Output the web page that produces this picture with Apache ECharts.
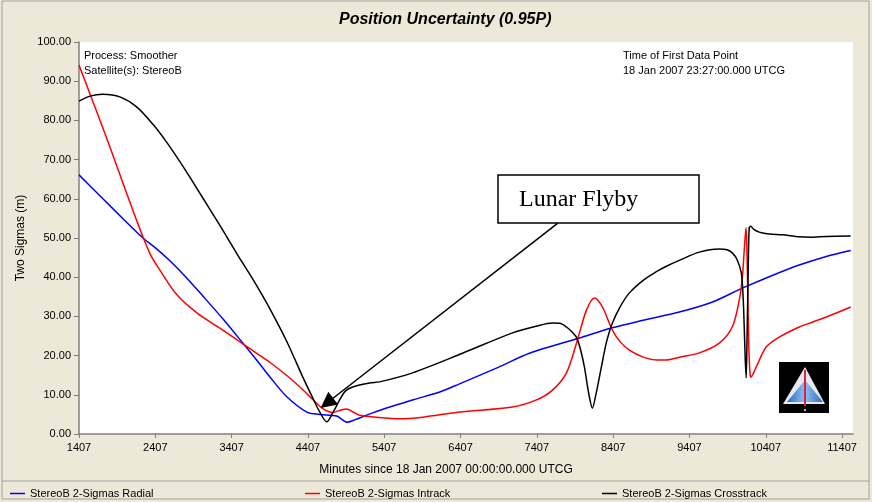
<!DOCTYPE html>
<html>
<head>
<meta charset="utf-8">
<script src="https://cdn.jsdelivr.net/npm/echarts@6/dist/echarts.min.js"></script>
<style>
  html, body { margin: 0; padding: 0; background: #ECE9D8; }
  #chart { width: 872px; height: 502px; }
</style>
</head>
<body>
<div id="chart"></div>
<script>
// tick positions on the minutes axis
const xTicks = [1407, 2407, 3407, 4407, 5407, 6407, 7407, 8407, 9407, 10407, 11407];

// StereoB 2-Sigmas Radial
const radialX = [1407, 1721, 2000, 2245, 2420, 2598, 2800, 3030, 3300, 3554, 3750, 3907, 4130, 4393, 4562, 4784, 4860, 4915, 5020, 5256, 5500, 5800, 6133, 6394, 6900, 7310, 7965, 8397, 8800, 9274, 9700, 10099, 10500, 10845, 11200, 11520];
const radialY = [66.1, 60.0, 54.6, 50.0, 47.3, 44.2, 40.2, 35.2, 29.2, 23.2, 18.5, 14.6, 9.5, 5.6, 5.0, 4.6, 3.6, 3.0, 3.6, 5.4, 7.0, 8.8, 10.7, 12.8, 17.0, 20.6, 24.5, 27.1, 29.0, 31.1, 33.6, 37.2, 40.5, 43.1, 45.3, 46.8];

// StereoB 2-Sigmas Intrack
const intrackX = [1407, 1550, 1721, 1900, 2048, 2166, 2245, 2350, 2467, 2690, 2952, 3253, 3554, 3750, 3907, 4150, 4340, 4480, 4601, 4732, 4850, 4915, 5000, 5085, 5300, 5609, 5910, 6394, 7088, 7402, 7612, 7795, 7939, 8057, 8162, 8266, 8397, 8500, 8620, 8800, 8973, 9104, 9274, 9536, 9798, 9968, 10060, 10100, 10125, 10148, 10160, 10172, 10185, 10200, 10212, 10240, 10282, 10413, 10583, 10845, 11015, 11300, 11520];
const intrackY = [94.1, 86.8, 78.0, 68.5, 60.5, 54.3, 50.3, 45.5, 41.8, 35.5, 30.9, 27.0, 23.0, 20.4, 18.3, 14.6, 11.3, 8.6, 6.5, 5.5, 6.2, 6.4, 5.6, 4.8, 4.3, 3.9, 4.3, 5.6, 6.9, 8.7, 11.2, 15.6, 24.0, 31.6, 34.7, 32.4, 26.5, 23.5, 21.4, 19.6, 18.9, 18.9, 19.6, 20.7, 23.2, 27.3, 34.2, 40.0, 47.0, 52.6, 47.0, 35.0, 22.0, 15.5, 14.5, 15.3, 17.1, 22.2, 24.7, 27.3, 28.5, 30.6, 32.4];

// StereoB 2-Sigmas Crosstrack
const crossX = [1407, 1550, 1721, 1944, 2166, 2376, 2550, 2729, 2880, 3030, 3190, 3344, 3475, 3700, 3907, 4130, 4340, 4470, 4562, 4654, 4732, 4823, 4900, 4994, 5216, 5347, 5779, 6433, 7088, 7400, 7612, 7720, 7795, 7870, 7926, 7980, 8030, 8090, 8135, 8180, 8253, 8320, 8397, 8500, 8620, 8800, 8973, 9104, 9274, 9536, 9798, 9900, 9968, 10030, 10086, 10110, 10125, 10138, 10150, 10162, 10175, 10190, 10210, 10250, 10321, 10450, 10622, 10845, 11000, 11200, 11520];
const crossY = [84.9, 86.2, 86.7, 86.0, 83.4, 79.0, 74.6, 69.5, 64.9, 60.2, 55.2, 50.3, 46.0, 39.0, 32.0, 23.6, 14.5, 9.2, 5.6, 3.1, 5.4, 8.7, 11.0, 12.0, 13.0, 13.3, 15.6, 20.6, 25.8, 27.5, 28.3, 28.2, 27.3, 26.0, 24.7, 21.5, 17.1, 10.0, 6.6, 10.0, 17.1, 23.5, 28.3, 32.5, 36.0, 39.2, 41.4, 42.8, 44.3, 46.4, 47.2, 47.0, 46.2, 44.5, 41.1, 35.0, 27.0, 19.0, 14.3, 25.0, 40.0, 52.6, 53.0, 52.2, 51.5, 51.0, 50.8, 50.3, 50.2, 50.4, 50.5];

// arrow of the "Lunar Flyby" note, in data units
const flybyFrom = [7682, 53.8];
const flybyTo = [4656, 7.9];

const FONT = 'Liberation Sans, Arial, sans-serif';

function zip(xs, ys) {
    return xs.map((x, i) => [x, ys[i]]);
}

function lineSeries(name, color, xs, ys) {
    return {
        name: name,
        type: 'line',
        data: zip(xs, ys),
        symbol: 'none',
        showSymbol: false,
        smooth: 0.3,
        lineStyle: { color: color, width: 1.5 },
        itemStyle: { color: color },
        emphasis: { disabled: true },
        animation: false
    };
}

function legendAt(name, left) {
    return {
        data: [name],
        left: left,
        top: 483,
        icon: 'rect',
        itemWidth: 15,
        itemHeight: 1.5,
        selectedMode: false,
        textStyle: { fontFamily: FONT, fontSize: 11, color: '#000' }
    };
}

var myChart = echarts.init(document.getElementById('chart'));

var series = [
    lineSeries('StereoB 2-Sigmas Radial', '#0000FF', radialX, radialY),
    lineSeries('StereoB 2-Sigmas Intrack', '#FF0000', intrackX, intrackY),
    lineSeries('StereoB 2-Sigmas Crosstrack', '#000000', crossX, crossY)
];

// arrow pointing at the flyby minimum
series[2].markLine = {
    silent: true,
    animation: false,
    symbol: ['none', 'triangle'],
    symbolSize: 16,
    label: { show: false },
    lineStyle: { color: '#000', width: 1.5, type: 'solid' },
    data: [[{ coord: flybyFrom }, { coord: flybyTo }]]
};

var option = {
    backgroundColor: '#ECE9D8',
    animation: false,
    grid: {
        left: 79, right: 19, top: 42, bottom: 68,
        show: true, backgroundColor: '#FFFFFF', borderWidth: 0
    },
    legend: [
        legendAt('StereoB 2-Sigmas Radial', 5),
        legendAt('StereoB 2-Sigmas Intrack', 300),
        legendAt('StereoB 2-Sigmas Crosstrack', 597)
    ],
    xAxis: {
        type: 'value',
        min: 1407,
        max: 11550,
        name: 'Minutes since 18 Jan 2007 00:00:00.000 UTCG',
        nameLocation: 'middle',
        nameGap: 30,
        nameTextStyle: { fontFamily: FONT, fontSize: 12, color: '#000', padding: [0, 40, 0, 0] },
        axisLine: { onZero: false, lineStyle: { color: '#808080', width: 1.5 } },
        axisTick: { customValues: xTicks, length: 4, lineStyle: { color: '#808080' } },
        axisLabel: {
            customValues: xTicks, fontFamily: FONT, fontSize: 11, color: '#000', margin: 8,
            formatter: function (v) { return String(v); }
        },
        splitLine: { show: false }
    },
    yAxis: {
        type: 'value',
        min: 0,
        max: 100,
        interval: 10,
        name: 'Two Sigmas (m)',
        nameLocation: 'middle',
        nameGap: 52,
        nameTextStyle: { fontFamily: FONT, fontSize: 12, color: '#000' },
        axisLine: { show: true, lineStyle: { color: '#808080', width: 1.5 } },
        axisTick: { show: true, length: 5, lineStyle: { color: '#808080' } },
        axisLabel: {
            fontFamily: FONT, fontSize: 11, color: '#000', margin: 8,
            formatter: function (v) { return v.toFixed(2); }
        },
        splitLine: { show: false }
    },
    graphic: [
        // frame and legend separator
        { type: 'rect', shape: { x: 2, y: 1, width: 867, height: 498 }, style: { fill: 'none', stroke: '#A0A0A0', lineWidth: 1 }, silent: true },
        { type: 'line', shape: { x1: 2, y1: 481, x2: 869, y2: 481 }, style: { stroke: '#A0A0A0', lineWidth: 1 }, silent: true },
        // title
        { type: 'text', left: 339, top: 12, style: { text: 'Position Uncertainty (0.95P)', font: 'italic bold 16px ' + FONT, fill: '#000' } },
        // info texts
        { type: 'text', x: 84, y: 50, style: { text: 'Process: Smoother', font: '11px ' + FONT, fill: '#000' } },
        { type: 'text', x: 84, y: 65, style: { text: 'Satellite(s): StereoB', font: '11px ' + FONT, fill: '#000' } },
        { type: 'text', x: 623, y: 50, style: { text: 'Time of First Data Point', font: '11px ' + FONT, fill: '#000' } },
        { type: 'text', x: 623, y: 65, style: { text: '18 Jan 2007 23:27:00.000 UTCG', font: '11px ' + FONT, fill: '#000' } },
        // Lunar Flyby box
        {
            type: 'rect', z: 100,
            shape: { x: 498, y: 175, width: 201, height: 48 },
            style: { fill: '#FFFFFF', stroke: '#000', lineWidth: 1.5 }
        },
        {
            type: 'text', z: 101, x: 519, y: 200,
            style: { text: 'Lunar Flyby', font: '24px Liberation Serif, Times New Roman, serif', fill: '#000', verticalAlign: 'middle' }
        },
        // logo in the corner
        {
            type: 'group', z: 100, x: 779, y: 362,
            children: [
                { type: 'rect', shape: { x: 0, y: 0, width: 50, height: 51 }, style: { fill: '#000' } },
                { type: 'polygon', shape: { points: [[26, 5], [4, 42], [46, 42]] }, style: { fill: '#E8E8F0' } },
                {
                    type: 'polygon', shape: { points: [[26, 18], [8, 40], [44, 40]] },
                    style: {
                        fill: new echarts.graphic.LinearGradient(0, 0, 1, 0, [
                            { offset: 0, color: '#2A6FC0' },
                            { offset: 0.5, color: '#8CC0F0' },
                            { offset: 1, color: '#2A6FC0' }
                        ])
                    }
                },
                { type: 'line', shape: { x1: 26, y1: 8, x2: 26, y2: 44 }, style: { stroke: '#E02040', lineWidth: 2 } },
                { type: 'rect', shape: { x: 25, y: 47, width: 2, height: 2 }, style: { fill: '#C0C0C0' } }
            ]
        }
    ],
    series: series
};

myChart.setOption(option);
</script>
</body>
</html>
